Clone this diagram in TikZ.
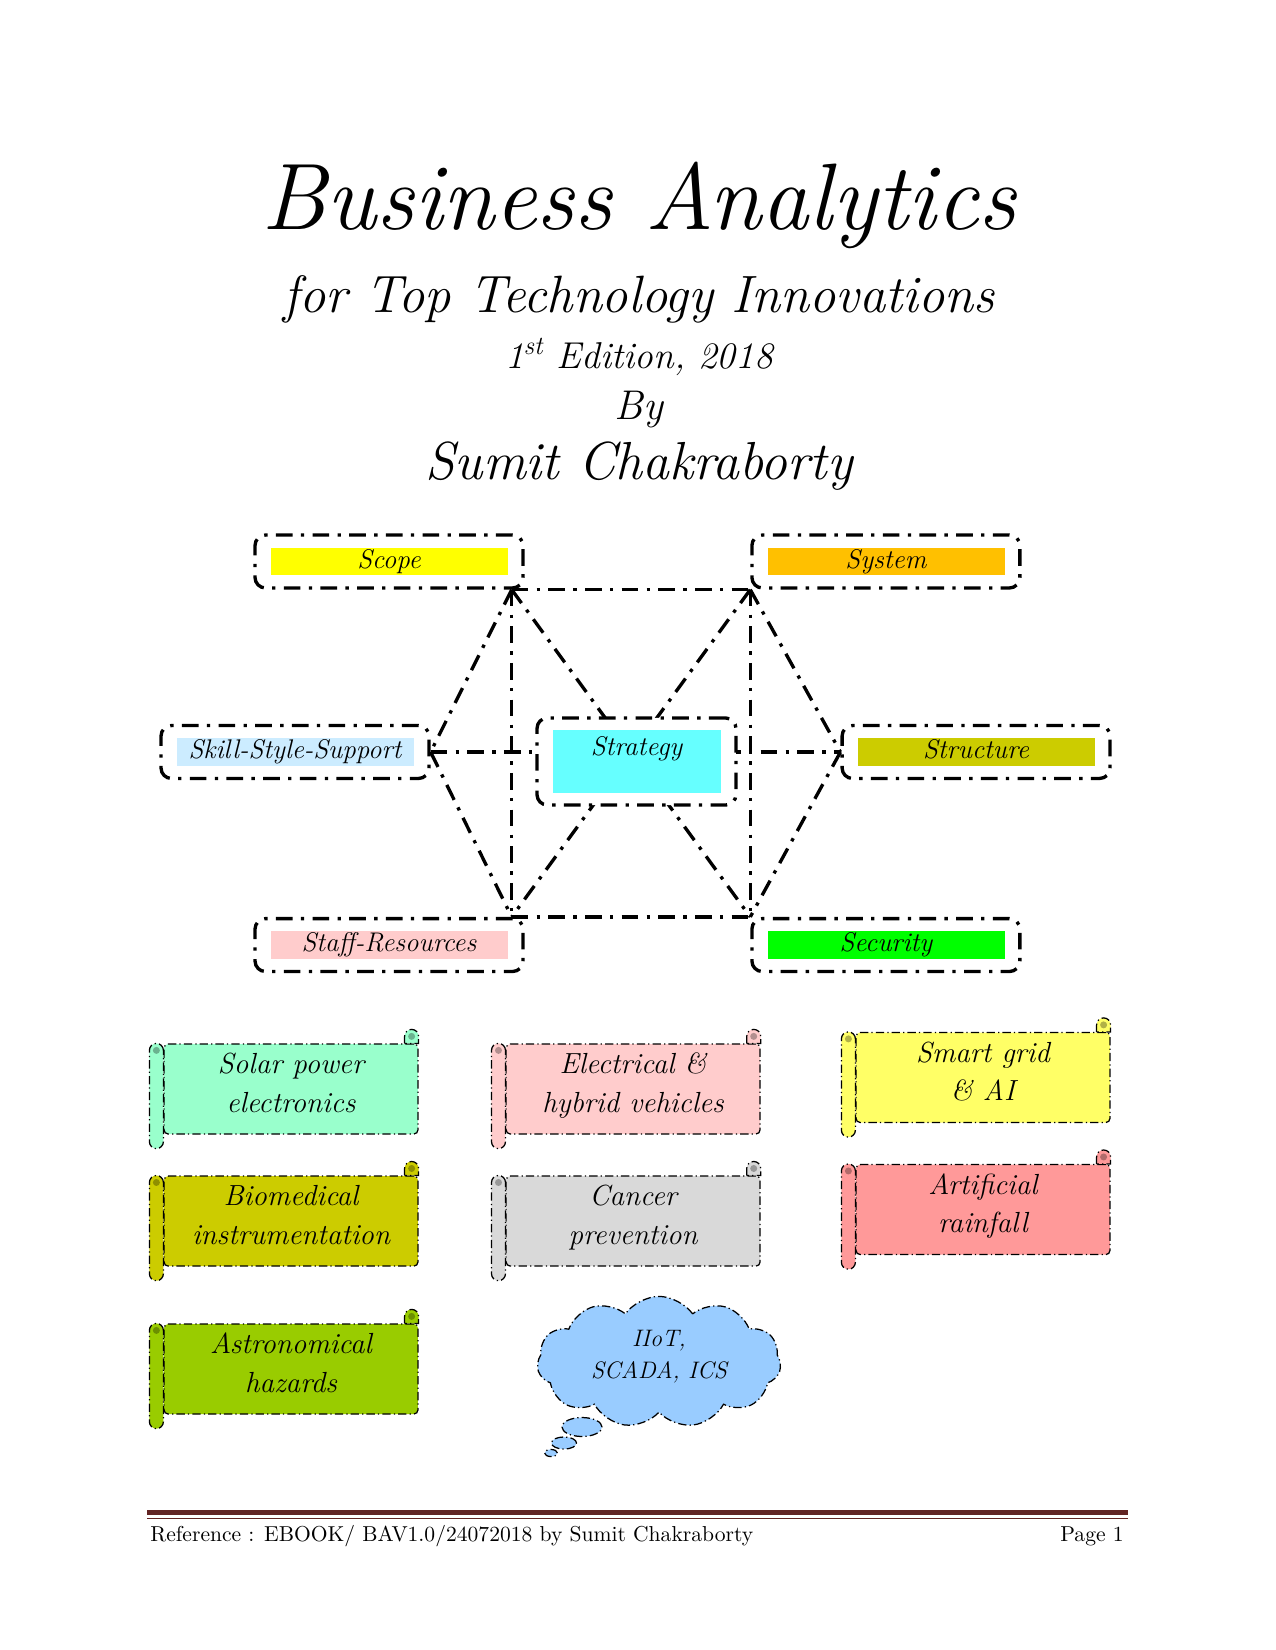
\documentclass[tikz,border=0pt]{standalone}
\usepackage{fontspec}
\usepackage{tikz}
\usetikzlibrary{calc,positioning,shapes.geometric,shapes.symbols,backgrounds}
\definecolor{scopeyellow}{HTML}{FFFF00}
\definecolor{systemorange}{HTML}{FFC000}
\definecolor{skillblue}{HTML}{CCECFF}
\definecolor{strategycyan}{HTML}{66FFFF}
\definecolor{structureolive}{HTML}{CCCC00}
\definecolor{staffpink}{HTML}{FFCCCC}
\definecolor{securitygreen}{HTML}{00FF00}
\definecolor{solarmint}{HTML}{99FFCC}
\definecolor{evpink}{HTML}{FFCCCC}
\definecolor{gridyellow}{HTML}{FFFF66}
\definecolor{bioolive}{HTML}{CCCC00}
\definecolor{cancergray}{HTML}{D9D9D9}
\definecolor{rainred}{HTML}{FF9999}
\definecolor{astrogreen}{HTML}{99CC00}
\definecolor{cloudblue}{HTML}{99CCFF}
\definecolor{footbrown}{HTML}{622423}
\tikzset{
    dashdot/.style={
    line width=1.6bp,dash pattern=on 8bp off 4bp on 1.6bp off 4bp
    },
    thindash/.style={
    line width=0.6bp,dash pattern=on 4bp off 1.5bp on 0.6bp off 1.5bp
    },
    hexbox/.style={
    rectangle,rounded corners=5bp,draw=black,dashdot,inner sep=0pt,
    minimum width=128.6bp,minimum height=25.4bp,text height=9bp,text depth=2.5bp,
    font=\fontsize{13}{15}\selectfont\itshape,
    path picture={\fill[#1,sharp corners] ([shift={(7.7bp,-6bp)}]path picture bounding box.north west) rectangle ([shift={(-7.2bp,6bp)}]path picture bounding box.south east);}
    },
    scroll/.style={
    rectangle,rounded corners=2bp,draw=black,thindash,fill=#1,inner sep=0pt,
    minimum width=121.9bp,minimum height=43.2bp,align=center,text height=28.7bp,text depth=6.3bp,
    font=\fontsize{14}{18.7}\selectfont\itshape
    },
    bubble/.style={
    ellipse,draw=black,thindash,fill=cloudblue,inner sep=0pt
    },
    heading/.style={
    anchor=base,inner sep=0pt,font=\fontsize{#1}{#1}\selectfont\itshape
    },
}

\begin{document}
\begin{tikzpicture}[x=0.48bp, y=0.48bp, on grid]
   \useasboundingbox (0,0) rectangle (1275,-1650);

   % title block
   \node[heading=45.5] (title) at (639,-229) {Business Analytics};
   \node[heading=25.3] (subtitle) at (639,-312) {for Top Technology Innovations};
   \node[heading=18] (edition) at (639,-368) {1\textsuperscript{st} Edition, 2018};
   \node[heading=20] (by) at (639,-419) {By};
   \node[heading=25.8] (author) at (639,-479) {Sumit Chakraborty};

   % the seven S
   \node[hexbox=scopeyellow] (scope) at (389,-561.5) {Scope};
   \node[hexbox=systemorange,right=238.5bp of scope] (system) {System};
   \node[hexbox=skillblue] (skill) at (295,-752) {Skill-Style-Support};
   \node[hexbox=structureolive,right=326.9bp of skill] (structure) {Structure};
   \node[hexbox=staffpink,below=184.1bp of scope] (staff) {Staff-Resources};
   \node[hexbox=securitygreen,right=238.5bp of staff] (security) {Security};
   \node[hexbox=strategycyan,fill=white,minimum width=95.5bp,minimum height=41.8bp,text depth=15bp] (strategy) at (636.5,-761.5) {Strategy};

   \coordinate (vScope) at ([xshift=-6.2bp]scope.south east);
   \coordinate (vSystem) at (system.south west);
   \coordinate (vStaff) at ([xshift=-6.2bp]staff.north east);
   \coordinate (vSecurity) at (security.north west);

   \begin{scope}[on background layer]
   \path[dashdot]
    (vScope) edge (vSystem)
    (vStaff) edge (vSecurity)
    (vScope) edge (vStaff)
    (vSystem) edge (vSecurity)
    (vScope) edge (skill.east)
    (skill.east) edge (vStaff)
    (vSystem) edge (structure.west)
    (structure.west) edge (vSecurity)
    (vScope) edge (vSecurity)
    (vSystem) edge (vStaff)
    (skill.east) edge (structure.west);
   \end{scope}

   % technology scrolls
   \node[scroll=solarmint] (solar) at (291,-1089) {Solar power\\electronics};
   \node[scroll=evpink,right=164.2bp of solar] (electrical) {Electrical \&\\hybrid vehicles};
   \node[scroll=gridyellow] (smartgrid) at (983,-1077.5) {Smart grid\\\& AI};
   \node[scroll=bioolive,below=63.4bp of solar] (biomed) {Biomedical\\instrumentation};
   \node[scroll=cancergray,right=164.2bp of biomed] (cancer) {Cancer\\prevention};
   \node[scroll=rainred,below=63.4bp of smartgrid] (rainfall) {Artificial\\rainfall};
   \node[scroll=astrogreen,below=71bp of biomed] (astro) {Astronomical\\hazards};

   \foreach \s/\c in {solar/solarmint,electrical/evpink,smartgrid/gridyellow,biomed/bioolive,cancer/cancergray,rainfall/rainred,astro/astrogreen}{
     \draw[thindash,fill=\c] ($(\s.north west)+(0,-7)$) arc[start angle=0,end angle=180,radius=7] -- ($(\s.south west)+(-14,-7)$) arc[start angle=180,end angle=360,radius=7] -- cycle;
     \fill[\c!70!black] ($(\s.north west)+(-7,-7)$) circle[radius=3.5];
     \draw[thindash,fill=\c] ($(\s.north east)+(-14,0)$) -- ++(0,7) arc[start angle=180,end angle=0,radius=7] -- (\s.north east) -- cycle;
     \fill[\c!70!black] ($(\s.north east)+(-7,7)$) circle[radius=3.5];
   }

   % thought cloud
   \node[cloud,cloud puffs=11,cloud puff arc=110,aspect=1.85,draw=black,thindash,fill=cloudblue,inner sep=0pt,
     minimum width=117bp,minimum height=63bp,align=center,text height=22.8bp,text depth=7.4bp,
     font=\fontsize{11.5}{15}\selectfont\itshape] (iiot) at (659,-1362) {IIoT,\\SCADA, ICS};
   \node[bubble,minimum width=19.2bp,minimum height=9.1bp] (thought1) at (582,-1427) {};
   \node[bubble,minimum width=12bp,minimum height=5.8bp] (thought2) at (564,-1443) {};
   \node[bubble,minimum width=6.2bp,minimum height=3.4bp] (thought3) at (551,-1453) {};

   % footer
   \coordinate (ruleL) at (147,-1512.5);
   \coordinate (ruleR) at (1128,-1512.5);
   \draw[footbrown,line width=2.3bp] (ruleL) -- (ruleR);
   \draw[footbrown,line width=0.6bp] ([yshift=-3bp]ruleL) -- ([yshift=-3bp]ruleR);
   \node[anchor=base west,inner sep=0pt,font=\fontsize{10.4}{13}\selectfont] (reference) at (150,-1541) {Reference : EBOOK/ BAV1.0/24072018 by Sumit Chakraborty};
   \node[anchor=base east,inner sep=0pt,font=\fontsize{10.4}{13}\selectfont] (pageno) at (1124,-1541) {Page 1};
\end{tikzpicture}
\end{document}
